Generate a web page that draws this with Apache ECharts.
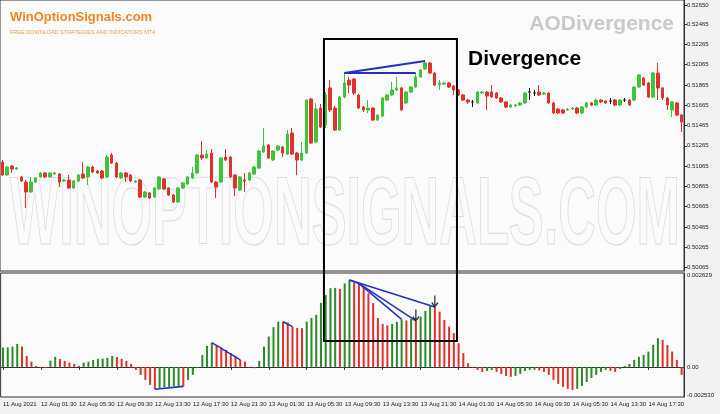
<!DOCTYPE html>
<html><head><meta charset="utf-8">
<script src="https://cdn.jsdelivr.net/npm/echarts@6/dist/echarts.min.js"></script>
<style>html,body{margin:0;padding:0;background:#f2f2f2}#c{width:720px;height:414px}</style>
</head><body><div id="c"></div>
<script>
const openVals = [
0.51105,0.50977,0.51066,0.51036,0.50958,0.50908,0.50810,0.50908,0.50958,0.50997,
0.50958,0.50987,0.50987,0.50918,0.50928,0.50849,0.50918,0.50987,0.50958,0.51056,
0.51017,0.51017,0.50958,0.51174,0.51095,0.50948,0.50997,0.50977,0.50908,0.50928,
0.50760,0.50800,0.50760,0.50839,0.50938,0.50849,0.50780,0.50711,0.50849,0.50889,
0.50948,0.50997,0.51174,0.51145,0.51194,0.50908,0.50908,0.51154,0.51154,0.50977,
0.50830,0.50928,0.50928,0.50987,0.51046,0.51204,0.51273,0.51125,0.51223,0.51253,
0.51184,0.51391,0.51194,0.51125,0.51194,0.51726,0.51302,0.51637,0.51470,0.51835,
0.51637,0.51421,0.51746,0.51913,0.51923,0.51766,0.51647,0.51618,0.51637,0.51519,
0.51558,0.51716,0.51766,0.51815,0.51835,0.51687,0.51795,0.51844,0.51943,0.52022,
0.52081,0.51982,0.51864,0.51874,0.51884,0.51854,0.51815,0.51766,0.51716,0.51697,
0.51687,0.51785,0.51795,0.51795,0.51785,0.51736,0.51697,0.51647,0.51657,0.51667,
0.51687,0.51795,0.51785,0.51795,0.51775,0.51785,0.51687,0.51627,0.51618,0.51618,
0.51627,0.51637,0.51588,0.51647,0.51687,0.51667,0.51716,0.51706,0.51706,0.51716,
0.51667,0.51716,0.51716,0.51716,0.51844,0.51933,0.51884,0.51746,0.51982,0.51835,
0.51736,0.51618,0.51687,0.51568];
const closeVals = [
0.50977,0.51056,0.51036,0.51046,0.50918,0.50810,0.50908,0.50948,0.50997,0.50958,
0.50997,0.50997,0.50908,0.50928,0.50849,0.50918,0.50977,0.50948,0.51056,0.51007,
0.50997,0.50948,0.51154,0.51095,0.50958,0.50997,0.50958,0.50918,0.50918,0.50760,
0.50810,0.50751,0.50849,0.50958,0.50839,0.50780,0.50711,0.50849,0.50899,0.50958,
0.50997,0.51174,0.51145,0.51184,0.50908,0.50859,0.51145,0.51125,0.50958,0.50849,
0.50958,0.50918,0.50997,0.51056,0.51213,0.51263,0.51145,0.51213,0.51263,0.51194,
0.51381,0.51184,0.51125,0.51194,0.51716,0.51292,0.51627,0.51450,0.51766,0.51618,
0.51421,0.51746,0.51884,0.51864,0.51785,0.51637,0.51618,0.51637,0.51519,0.51568,
0.51736,0.51766,0.51815,0.51835,0.51618,0.51795,0.51844,0.51943,0.52012,0.52081,
0.51982,0.51864,0.51884,0.51884,0.51844,0.51815,0.51766,0.51716,0.51697,0.51697,
0.51795,0.51795,0.51756,0.51746,0.51736,0.51697,0.51647,0.51667,0.51667,0.51687,
0.51785,0.51795,0.51785,0.51766,0.51785,0.51687,0.51588,0.51588,0.51588,0.51627,
0.51637,0.51588,0.51647,0.51687,0.51667,0.51716,0.51697,0.51687,0.51706,0.51667,
0.51716,0.51716,0.51667,0.51844,0.51963,0.51864,0.51746,0.51982,0.51835,0.51736,
0.51667,0.51697,0.51568,0.51499];
const highVals = [
0.51125,0.51066,0.51076,0.51056,0.50968,0.50928,0.50958,0.50958,0.51007,0.51007,
0.51007,0.51007,0.50997,0.50938,0.50977,0.50928,0.50987,0.51105,0.51066,0.51066,
0.51027,0.51027,0.51174,0.51194,0.51105,0.51007,0.51007,0.50987,0.50928,0.50938,
0.50820,0.50810,0.50859,0.50968,0.50948,0.50859,0.50790,0.50859,0.50908,0.50968,
0.51056,0.51184,0.51312,0.51223,0.51233,0.50918,0.51154,0.51233,0.51164,0.50987,
0.50968,0.50997,0.51007,0.51066,0.51223,0.51440,0.51283,0.51223,0.51273,0.51263,
0.51421,0.51440,0.51204,0.51302,0.51726,0.51736,0.51687,0.51677,0.51795,0.51913,
0.51657,0.51756,0.51982,0.51943,0.51933,0.51775,0.51657,0.51716,0.51647,0.51578,
0.51746,0.51775,0.51894,0.51943,0.51844,0.51805,0.51854,0.51982,0.52022,0.52101,
0.52091,0.51992,0.51913,0.51894,0.51894,0.51864,0.51825,0.51775,0.51726,0.51716,
0.51805,0.51805,0.51805,0.51864,0.51795,0.51746,0.51706,0.51677,0.51677,0.51697,
0.51795,0.51835,0.51815,0.51864,0.51795,0.51795,0.51697,0.51637,0.51627,0.51637,
0.51647,0.51647,0.51657,0.51697,0.51697,0.51726,0.51726,0.51716,0.51736,0.51726,
0.51726,0.51736,0.51726,0.51854,0.51972,0.51943,0.51894,0.51992,0.52081,0.51844,
0.51746,0.51706,0.51697,0.51578];
const lowVals = [
0.50968,0.50968,0.50997,0.51027,0.50908,0.50652,0.50800,0.50899,0.50948,0.50948,
0.50948,0.50977,0.50859,0.50908,0.50839,0.50839,0.50908,0.50938,0.50879,0.50997,
0.50987,0.50938,0.50948,0.51086,0.50948,0.50938,0.50908,0.50908,0.50899,0.50751,
0.50751,0.50741,0.50751,0.50830,0.50830,0.50770,0.50701,0.50701,0.50839,0.50879,
0.50938,0.50987,0.51125,0.51135,0.50899,0.50751,0.50899,0.51115,0.50948,0.50770,
0.50820,0.50810,0.50918,0.50977,0.51036,0.51194,0.51135,0.51115,0.51213,0.51154,
0.51174,0.51174,0.50977,0.51115,0.51184,0.51283,0.51292,0.51440,0.51440,0.51598,
0.51411,0.51411,0.51736,0.51785,0.51766,0.51627,0.51598,0.51588,0.51509,0.51509,
0.51549,0.51706,0.51756,0.51805,0.51608,0.51677,0.51785,0.51835,0.51933,0.52012,
0.51972,0.51854,0.51815,0.51864,0.51835,0.51766,0.51756,0.51706,0.51677,0.51647,
0.51677,0.51775,0.51618,0.51736,0.51726,0.51687,0.51637,0.51637,0.51647,0.51657,
0.51677,0.51716,0.51756,0.51756,0.51766,0.51677,0.51578,0.51578,0.51578,0.51608,
0.51618,0.51578,0.51578,0.51637,0.51657,0.51657,0.51687,0.51677,0.51677,0.51657,
0.51657,0.51697,0.51657,0.51706,0.51835,0.51854,0.51736,0.51736,0.51716,0.51716,
0.51618,0.51549,0.51558,0.51401];
const aoVals = [
0.000540,0.000546,0.000568,0.000644,0.000568,0.000308,0.000148,0.000028,-0.000020,-0.000028,
0.000176,0.000280,0.000224,0.000168,0.000120,0.000084,0.000028,0.000120,0.000148,0.000196,
0.000224,0.000232,0.000252,0.000308,0.000280,0.000224,0.000168,0.000084,-0.000084,-0.000224,
-0.000364,-0.000504,-0.000624,-0.000588,-0.000568,-0.000560,-0.000546,-0.000532,-0.000546,-0.000364,
-0.000224,-0.000028,0.000336,0.000588,0.000680,0.000616,0.000532,0.000476,0.000392,0.000308,
0.000196,0.000148,-0.000014,-0.000036,0.000168,0.000568,0.000848,0.001112,0.001268,0.001263,
0.001240,0.001128,0.001092,0.001084,0.001268,0.001372,0.001456,0.001792,0.002016,0.002204,
0.002212,0.002184,0.002338,0.002436,0.002360,0.002338,0.002248,0.002064,0.001784,0.001372,
0.001204,0.001162,0.001204,0.001260,0.001330,0.001302,0.001344,0.001288,0.001408,0.001568,
0.001722,0.001680,0.001548,0.001316,0.001128,0.000944,0.000664,0.000384,0.000104,-0.000014,
-0.000084,-0.000140,-0.000112,-0.000084,-0.000140,-0.000196,-0.000252,-0.000280,-0.000252,-0.000196,
-0.000112,-0.000084,-0.000070,-0.000098,-0.000140,-0.000224,-0.000364,-0.000476,-0.000560,-0.000616,
-0.000644,-0.000616,-0.000532,-0.000420,-0.000308,-0.000224,-0.000140,-0.000084,-0.000112,-0.000140,
-0.000056,0.000028,0.000084,0.000196,0.000280,0.000336,0.000428,0.000616,0.000804,0.000756,
0.000616,0.000428,0.000196,-0.000224];
const categories = openVals.map((v, i) => String(i));
const priceTickValues = [0.52650,0.52465,0.52265,0.52065,0.51865,0.51665,0.51465,0.51265,0.51065,0.50865,0.50665,0.50465,0.50265,0.50065];
const aoTickValues = [0.00256, 0, -0.000787];
const aoTickLabels = ['0.002629', '0.00', '-0.002530'];
const timeTickLabels = ['11 Aug 2021','12 Aug 01:30','12 Aug 05:30','12 Aug 09:30','12 Aug 13:30','12 Aug 17:30','12 Aug 21:30','13 Aug 01:30','13 Aug 05:30','13 Aug 09:30','13 Aug 13:30','13 Aug 21:30','14 Aug 01:30','14 Aug 05:30','14 Aug 09:30','14 Aug 05:30','14 Aug 13:30','14 Aug 17:30'];
const barsPerTimeLabel = 8;
const priceDivLines = [[72, 89], [72, 87]];
const aoDivLines = [[73, 91], [73, 75], [75, 87], [75, 84], [32, 38], [44, 50], [59, 61]];
const aoArrows = [87, 91];
const boxRange = {fromIndex: 67.7, toIndex: 95.7, topPrice: 0.52317, bottomAo: 0.000725};

const chart = echarts.init(document.getElementById('c'), null, {renderer: 'canvas'});
const GREEN = '#3cc43c', RED = '#e2312b', AOGREEN = '#2a8a2a', AORED = '#e0302a', BLUE = '#2232c0';
const labelFont = 'Liberation Sans';

const candleData = openVals.map((o, i) => {
  const item = {value: [o, closeVals[i], lowVals[i], highVals[i]]};
  if (o === closeVals[i]) item.itemStyle = {color: '#111', color0: '#111', borderColor: '#111', borderColor0: '#111'};
  return item;
});

const series = [
  {type: 'candlestick', xAxisIndex: 0, yAxisIndex: 0, data: candleData, barWidth: 3,
   itemStyle: {color: GREEN, color0: RED, borderColor: GREEN, borderColor0: RED, borderWidth: 1},
   silent: true, animation: false},
  {type: 'bar', xAxisIndex: 1, yAxisIndex: 1, data: aoVals, barWidth: 2, silent: true, animation: false,
   itemStyle: {color: p => (p.dataIndex === 0 || aoVals[p.dataIndex] > aoVals[p.dataIndex - 1]) ? AOGREEN : AORED}}
];
priceDivLines.forEach(([a, b]) => series.push({type: 'line', xAxisIndex: 0, yAxisIndex: 0, symbol: 'none', silent: true, animation: false, z: 5,
  lineStyle: {color: BLUE, width: 2}, data: [[a, highVals[a]], [b, highVals[b]]]}));
aoDivLines.forEach(([a, b]) => series.push({type: 'line', xAxisIndex: 1, yAxisIndex: 1, symbol: 'none', silent: true, animation: false, z: 5,
  lineStyle: {color: BLUE, width: 1.6}, data: [[a, aoVals[a]], [b, aoVals[b]]]}));
series.push({type: 'scatter', xAxisIndex: 1, yAxisIndex: 1, silent: true, animation: false, z: 6,
  symbol: 'path://M4,0L6,0L6,12L9,8.5L10.4,9.9L5,15.5L-0.4,9.9L1,8.5L4,12Z', symbolSize: [7, 12], symbolOffset: [0, '-45%'],
  itemStyle: {color: '#000'}, data: aoArrows.map(i => [i, aoVals[i]])});

const axisText = {fontSize: 6, color: '#222', fontFamily: labelFont};
const option = {
  backgroundColor: '#f2f2f2',
  animation: false,
  grid: [
    {left: 0, right: 36, top: 0, height: 271, show: true, backgroundColor: '#fbfbfb', borderColor: '#333', borderWidth: 1},
    {left: 0, right: 36, top: 273, bottom: 17, show: true, backgroundColor: '#fbfbfb', borderColor: '#333', borderWidth: 1}
  ],
  xAxis: [
    {type: 'category', gridIndex: 0, data: categories, boundaryGap: true, axisLine: {show: false}, axisTick: {show: false}, axisLabel: {show: false}, splitLine: {show: false}},
    {type: 'category', gridIndex: 1, data: categories, boundaryGap: true,
     axisLine: {show: true, lineStyle: {color: '#333'}},
     axisTick: {show: true, alignWithLabel: true, length: 3, interval: i => i % barsPerTimeLabel === 0, lineStyle: {color: '#333'}},
     axisLabel: Object.assign({interval: i => i % barsPerTimeLabel === 0, align: 'left', margin: 4,
       formatter: (v, i) => timeTickLabels[Math.round(i / barsPerTimeLabel)] || ''}, axisText),
     splitLine: {show: false}}
  ],
  yAxis: [
    {type: 'value', gridIndex: 0, position: 'right', min: 0.500316, max: 0.527014, scale: true,
     axisLine: {show: true, lineStyle: {color: '#333'}},
     axisTick: {show: true, length: 3, customValues: priceTickValues, lineStyle: {color: '#333'}},
     axisLabel: Object.assign({customValues: priceTickValues, margin: 3, formatter: v => v.toFixed(5)}, axisText),
     splitLine: {show: false}},
    {type: 'value', gridIndex: 1, position: 'right', min: -0.000843, max: 0.002629,
     axisLine: {show: true, lineStyle: {color: '#333'}},
     axisTick: {show: false},
     axisLabel: Object.assign({customValues: aoTickValues, margin: 3,
       formatter: v => { const k = aoTickValues.findIndex(t => Math.abs(t - v) < 1e-7); return k >= 0 ? aoTickLabels[k] : ''; }}, axisText),
     splitLine: {show: false}}
  ],
  series
};
chart.setOption(option);

// watermark scaling
const cv = document.createElement('canvas').getContext('2d');
cv.font = 'bold 96px "Liberation Sans"';
const wmText = 'WINOPTIONSIGNALS.COM';
const wmScale = 670 / cv.measureText(wmText).width;

function px(axisIdx, idx) {
  const f = Math.floor(idx), r = idx - f;
  const a = chart.convertToPixel({xAxisIndex: axisIdx}, f);
  const b = chart.convertToPixel({xAxisIndex: axisIdx}, f + 1);
  return a + (b - a) * r;
}
const bx1 = px(0, boxRange.fromIndex), bx2 = px(0, boxRange.toIndex);
const by1 = chart.convertToPixel({yAxisIndex: 0}, boxRange.topPrice);
const by2 = chart.convertToPixel({yAxisIndex: 1}, boxRange.bottomAo);

chart.setOption({graphic: {elements: [
  {type: 'text', id: 'wm', x: 10, y: 170, z: 1, silent: true, scaleX: wmScale, scaleY: 1,
   style: {text: wmText, font: 'bold 96px "Liberation Sans"', fill: 'rgba(255,255,255,0)', stroke: '#dcdcdc', lineWidth: 1.2, textVerticalAlign: 'top'}},
  {type: 'text', id: 'logo', x: 10, y: 11, z: 10, silent: true,
   style: {text: 'WinOptionSignals.com', font: 'bold 13px "Liberation Sans Narrow", "Liberation Sans"', fill: '#f4841f'}},
  {type: 'text', id: 'logo2', x: 10, y: 29, z: 10, silent: true,
   style: {text: 'FREE DOWNLOAD STRATEGIES AND INDICATORS MT4', font: '5.5px "Liberation Sans"', fill: '#f0a050'}},
  {type: 'text', id: 'aod', x: 674, y: 14, z: 10, silent: true,
   style: {text: 'AODivergence', font: 'bold 21px "Liberation Sans"', fill: '#cacaca', textAlign: 'right'}},
  {type: 'text', id: 'div', x: 468, y: 49, z: 10, silent: true,
   style: {text: 'Divergence', font: 'bold 21px "Liberation Sans"', fill: '#000'}},
  {type: 'rect', id: 'box', z: 10, silent: true, shape: {x: bx1, y: by1, width: bx2 - bx1, height: by2 - by1},
   style: {fill: 'none', stroke: '#000', lineWidth: 2}}
]}});
</script></body></html>
